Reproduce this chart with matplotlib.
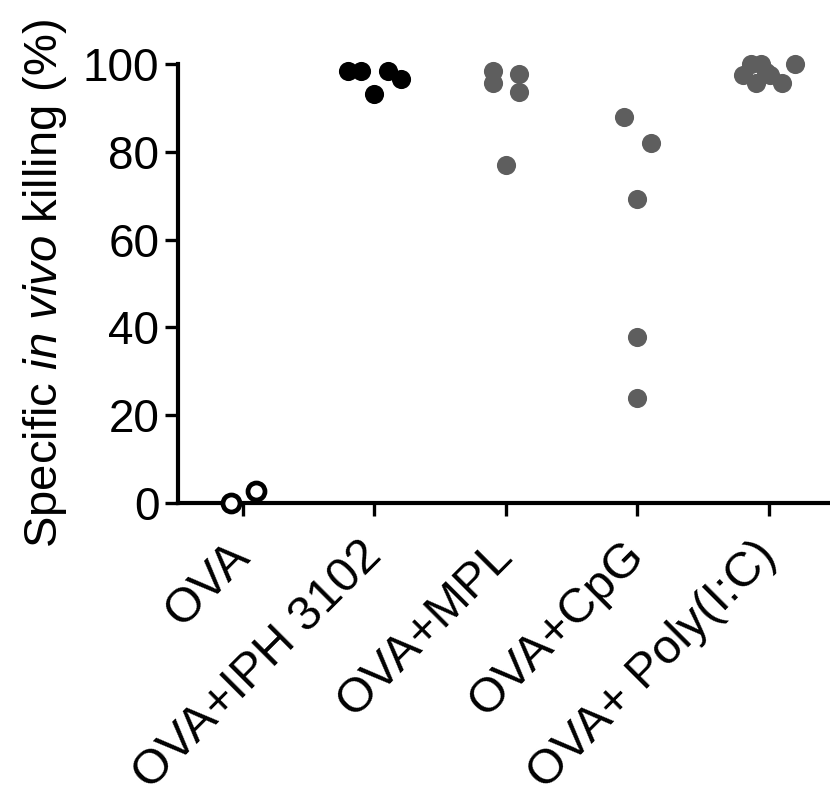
import numpy as np
import matplotlib
matplotlib.use('Agg')
import matplotlib.pyplot as plt
import matplotlib.transforms as mtrans

plt.rcParams['font.family'] = ['Liberation Sans', 'DejaVu Sans']
plt.rcParams['mathtext.fontset'] = 'custom'
plt.rcParams['mathtext.rm'] = 'Liberation Sans'
plt.rcParams['mathtext.it'] = 'Liberation Sans:italic'

# 그룹 이름
groups = ['OVA', 'OVA+IPH 3102', 'OVA+MPL', 'OVA+CpG', 'OVA+ Poly(I:C)']

# 그룹별 값 (%) 과 점의 좌우 위치 (그룹 중심 기준)
ova_y = [0.0, 2.8]
ova_dx = [-0.09, 0.10]
iph_y = [98.5, 98.5, 98.5, 96.6, 93.1]
iph_dx = [-0.20, -0.10, 0.10, 0.20, 0.0]
mpl_y = [98.3, 95.6, 97.7, 93.6, 77.0]
mpl_dx = [-0.10, -0.10, 0.10, 0.10, 0.0]
cpg_y = [87.9, 81.9, 69.2, 37.9, 23.8]
cpg_dx = [-0.10, 0.10, 0.0, 0.0, 0.0]
poly_y = [100.0, 100.0, 97.5, 95.6, 98.2, 97.5, 95.6, 100.0]
poly_dx = [-0.14, -0.06, -0.20, -0.10, -0.02, 0.01, 0.10, 0.20]

black = '#000000'
grey = '#5e5e5e'

fig = plt.figure(figsize=(8.30, 7.97), dpi=100)
ax = fig.add_axes([0.2145, 0.369, 0.7855, 0.5508])

ms = 190
ax.scatter(0 + np.array(ova_dx), ova_y, s=150, facecolors='white', edgecolors=black,
           linewidths=3.4, clip_on=False, zorder=3)
ax.scatter(1 + np.array(iph_dx), iph_y, s=ms, color=black, linewidths=0, clip_on=False, zorder=3)
ax.scatter(2 + np.array(mpl_dx), mpl_y, s=ms, color=grey, linewidths=0, clip_on=False, zorder=3)
ax.scatter(3 + np.array(cpg_dx), cpg_y, s=ms, color=grey, linewidths=0, clip_on=False, zorder=3)
ax.scatter(4 + np.array(poly_dx), poly_y, s=ms, color=grey, linewidths=0, clip_on=False, zorder=3)

ax.set_xlim(-0.494, 4.464)
ax.set_ylim(0, 100)
ax.set_yticks([0, 20, 40, 60, 80, 100])
ax.set_xticks(range(len(groups)))
ax.set_xticklabels(groups, rotation=45, ha='right', va='center', rotation_mode='anchor')

# x 라벨을 살짝 오른쪽 아래로 옮긴다
shift = mtrans.ScaledTranslation(5 / 72., -5 / 72., fig.dpi_scale_trans)
for lab in ax.get_xticklabels():
    lab.set_transform(lab.get_transform() + shift)

for s in ['top', 'right']:
    ax.spines[s].set_visible(False)
for s in ['left', 'bottom']:
    ax.spines[s].set_linewidth(3.0)
    ax.spines[s].set_zorder(1)

ax.tick_params(axis='y', length=9.5, width=2.4, labelsize=33, pad=4)
ax.tick_params(axis='x', length=9, width=2.4, labelsize=35, pad=24)

ax.set_ylabel(r'Specific $\mathit{in\ vivo}$ killing (%)', fontsize=34, labelpad=10)

fig.savefig('out.png', dpi=100)
